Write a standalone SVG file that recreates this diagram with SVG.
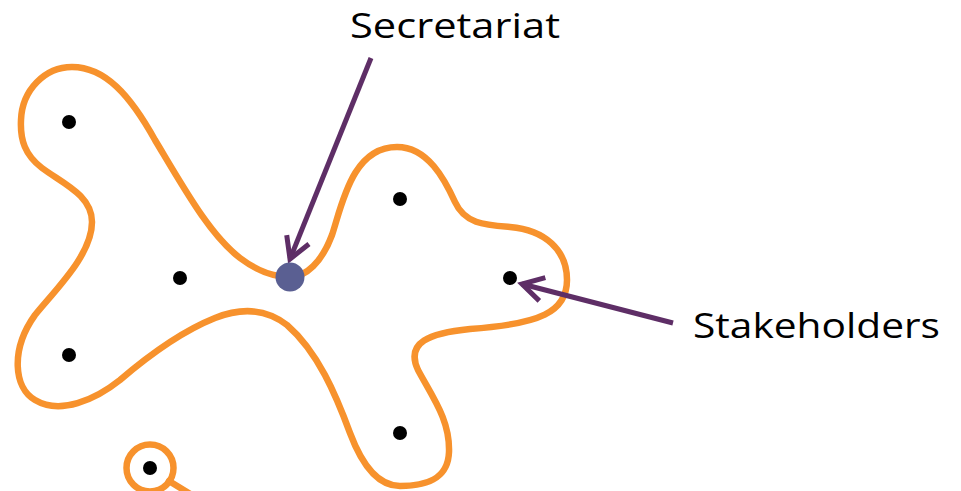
<svg xmlns="http://www.w3.org/2000/svg" width="961" height="491" viewBox="0 0 961 491">
<defs>
<style>
.outline{fill:none;stroke:#f7922d;stroke-width:6.5;stroke-linejoin:round;stroke-linecap:round}
.dot{fill:#000}
.sec{fill:#5a5f92}
.arrow{fill:none;stroke:#5e2e66;stroke-width:5}
.label{font-family:"Open Sans","Noto Sans","Liberation Sans",sans-serif;font-size:35px;fill:#000}
</style>
<marker id="ah" markerUnits="userSpaceOnUse" markerWidth="40" markerHeight="40" viewBox="-30 -20 40 40" refX="0" refY="0" orient="auto" overflow="visible">
<path d="M -21,-12 L 0,0 L -21,12" fill="none" stroke="#5e2e66" stroke-width="5" stroke-linejoin="miter" stroke-linecap="butt"/>
</marker>
</defs>
<rect width="961" height="491" fill="#fff"/>
<g id="outline">
<path class="outline" d="M 290,277 C 306,277 322,262 332,235 C 342,205 352,147 397,147 C 428,147 445,180 455,202 C 465,224 485,225 510,227 C 545,230 567,250 567,280 C 567,312 540,324 470,329 C 430,333 405,342 418,370 C 433,398 450,420 449,452 C 448,480 425,486 400,486 C 378,486 362,465 350,433 C 336,395 318,352 287,325 C 265,308 240,308 215,318 C 185,330 155,350 120,380 C 95,400 60,415 35,400 C 14,388 10,350 35,315 C 55,290 92,255 92,222 C 92,195 62,183 42,168 C 25,155 20,140 21,120 C 22,90 45,67 72,67 C 105,67 130,95 155,140 C 185,190 210,235 240,258 C 260,273 275,277 290,277 Z"/>
<circle class="outline" cx="150" cy="468" r="23.5"/>
<line class="outline" x1="169" y1="481" x2="200" y2="500"/>
</g>
<g id="connectors">
<line class="arrow" x1="371" y1="58" x2="290" y2="259" marker-end="url(#ah)"/>
<line class="arrow" x1="673" y1="323" x2="522" y2="284" marker-end="url(#ah)"/>
</g>
<g id="node-secretariat"><circle class="sec" cx="290" cy="277" r="14.5"/></g>
<g id="node-s1"><circle class="dot" cx="69" cy="122" r="7"/></g>
<g id="node-s2"><circle class="dot" cx="180" cy="278" r="7"/></g>
<g id="node-s3"><circle class="dot" cx="69" cy="355" r="7"/></g>
<g id="node-s4"><circle class="dot" cx="400" cy="199" r="7"/></g>
<g id="node-s5"><circle class="dot" cx="510" cy="278" r="7"/></g>
<g id="node-s6"><circle class="dot" cx="400" cy="433" r="7"/></g>
<g id="node-s7"><circle class="dot" cx="150" cy="468" r="7"/></g>
<g id="label-secretariat"><text class="label" x="350" y="38" textLength="210" lengthAdjust="spacingAndGlyphs">Secretariat</text></g>
<g id="label-stakeholders"><text class="label" x="693" y="338" textLength="247" lengthAdjust="spacingAndGlyphs">Stakeholders</text></g>
</svg>
